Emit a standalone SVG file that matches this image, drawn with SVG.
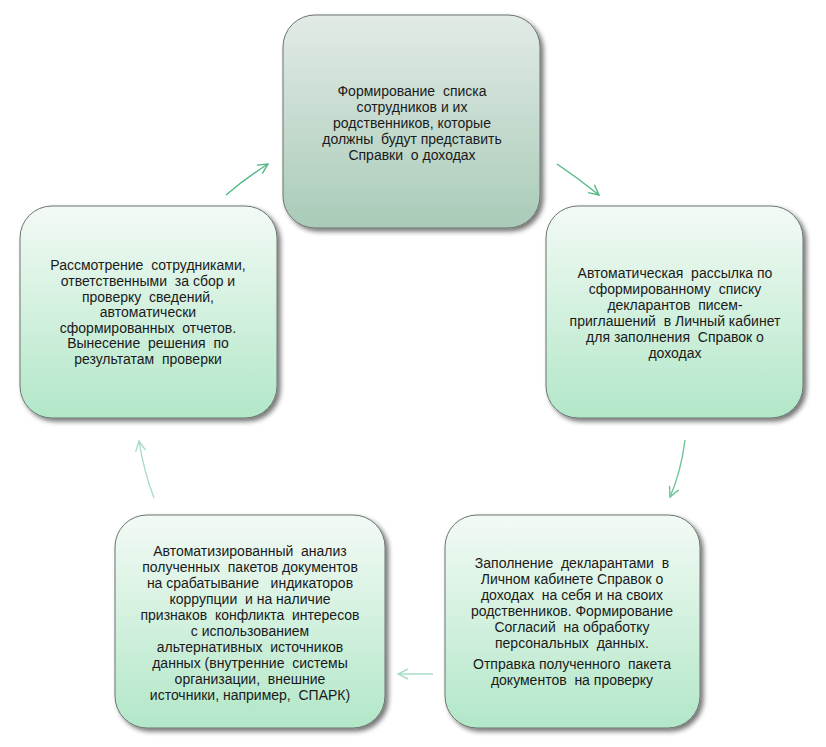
<svg xmlns="http://www.w3.org/2000/svg" width="826" height="747" viewBox="0 0 826 747">
<defs>
<linearGradient id="gTop" x1="0" y1="0" x2="0" y2="1">
<stop offset="0" stop-color="#e2ebe6"/>
<stop offset="1" stop-color="#a9cbb8"/>
</linearGradient>
<linearGradient id="gMint" x1="0" y1="0" x2="0" y2="1">
<stop offset="0" stop-color="#f3faf5"/>
<stop offset="1" stop-color="#b2e7c8"/>
</linearGradient>
<filter id="sh" x="-10%" y="-10%" width="125%" height="125%">
<feGaussianBlur in="SourceAlpha" stdDeviation="2.5"/>
<feOffset dx="3" dy="3" result="b"/>
<feComponentTransfer><feFuncA type="linear" slope="0.55"/></feComponentTransfer>
<feMerge><feMergeNode/><feMergeNode in="SourceGraphic"/></feMerge>
</filter>
<marker id="ah" viewBox="0 0 12 12" refX="11" refY="6" markerWidth="12" markerHeight="12" markerUnits="userSpaceOnUse" orient="auto">
<path d="M1,1 L11,6 L1,11" fill="none" stroke="context-stroke" stroke-width="1.4"/>
</marker>
</defs>
<style>
.box{stroke:#6b7570;stroke-width:1;filter:url(#sh)}
.t{font-family:"Liberation Sans",Arial,sans-serif;font-size:14px;fill:#1a1a1a;text-anchor:middle;white-space:pre}
.c{fill:none;stroke-width:1.4}
</style>
<rect width="826" height="747" fill="#ffffff"/>
<g id="n1">
<rect class="box" x="283" y="15" width="257" height="213" rx="32" fill="url(#gTop)"/>
<text class="t" x="412" y="96">Формирование  списка</text>
<text class="t" x="412" y="112">сотрудников и их</text>
<text class="t" x="412" y="128">родственников, которые</text>
<text class="t" x="412" y="144">должны  будут представить</text>
<text class="t" x="412" y="160">Справки  о доходах</text>
</g>
<g id="n2">
<rect class="box" x="546" y="206" width="257" height="212" rx="32" fill="url(#gMint)"/>
<text class="t" x="675" y="278">Автоматическая  рассылка по</text>
<text class="t" x="675" y="294">сформированному  списку</text>
<text class="t" x="675" y="310">декларантов  писем-</text>
<text class="t" x="675" y="326">приглашений  в Личный кабинет</text>
<text class="t" x="675" y="342">для заполнения  Справок о</text>
<text class="t" x="675" y="358">доходах</text>
</g>
<g id="n3">
<rect class="box" x="445" y="515" width="255" height="213" rx="32" fill="url(#gMint)"/>
<text class="t" x="572" y="568">Заполнение  декларантами  в</text>
<text class="t" x="572" y="584">Личном кабинете Справок о</text>
<text class="t" x="572" y="600">доходах  на себя и на своих</text>
<text class="t" x="572" y="616">родственников. Формирование</text>
<text class="t" x="572" y="632">Согласий  на обработку</text>
<text class="t" x="572" y="648">персональных  данных.</text>
<text class="t" x="572" y="669">Отправка полученного  пакета</text>
<text class="t" x="572" y="685">документов  на проверку</text>
</g>
<g id="n4">
<rect class="box" x="115" y="515" width="270" height="213" rx="32" fill="url(#gMint)"/>
<text class="t" x="250" y="556">Автоматизированный  анализ</text>
<text class="t" x="250" y="572">полученных  пакетов документов</text>
<text class="t" x="250" y="588">на срабатывание   индикаторов</text>
<text class="t" x="250" y="604">коррупции  и на наличие</text>
<text class="t" x="250" y="620">признаков  конфликта  интересов</text>
<text class="t" x="250" y="636">с использованием</text>
<text class="t" x="250" y="652">альтернативных  источников</text>
<text class="t" x="250" y="668">данных (внутренние  системы</text>
<text class="t" x="250" y="684">организации,  внешние</text>
<text class="t" x="250" y="700">источники, например,  СПАРК)</text>
</g>
<g id="n5">
<rect class="box" x="20" y="206" width="257" height="212" rx="32" fill="url(#gMint)"/>
<text class="t" x="148" y="270">Рассмотрение  сотрудниками,</text>
<text class="t" x="148" y="286">ответственными  за сбор и</text>
<text class="t" x="148" y="302">проверку  сведений,</text>
<text class="t" x="148" y="317">автоматически</text>
<text class="t" x="148" y="333">сформированных  отчетов.</text>
<text class="t" x="148" y="348">Вынесение  решения  по</text>
<text class="t" x="148" y="364">результатам  проверки</text>
</g>
<g id="connectors">
<path class="c" stroke="#52b784" d="M226,195 Q246,178 268,164" marker-end="url(#ah)"/>
<path class="c" stroke="#52b784" d="M557,164 Q578,178 599,195" marker-end="url(#ah)"/>
<path class="c" stroke="#6cc596" d="M685,440 Q681,472 670,497" marker-end="url(#ah)"/>
<path class="c" stroke="#a9dcc4" d="M433,674 L398,674" marker-end="url(#ah)"/>
<path class="c" stroke="#a9dcc4" d="M154,498 Q144,472 139,441" marker-end="url(#ah)"/>
</g>
</svg>
